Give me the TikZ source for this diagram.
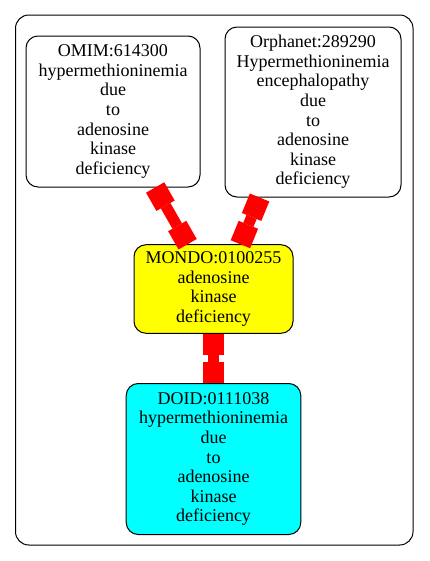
\documentclass[tikz,border=0pt]{standalone}
\usepackage{fontspec}
\setmainfont{Liberation Serif}
\usetikzlibrary{arrows.meta}

\definecolor{edgered}{RGB}{255,0,0}
\definecolor{mondoyellow}{RGB}{255,255,0}
\definecolor{doidcyan}{RGB}{0,255,255}

\tikzset{
  term/.style={draw=black, line width=0.75pt, rounded corners=9pt, align=center,
    inner sep=0pt, font=\fontsize{13.5pt}{14.7pt}\selectfont},
  teeedge/.style={edgered, line width=8.25pt,
    {Square[length=15.75pt,width=15.75pt,line width=0pt]}-{Square[length=15.75pt,width=15.75pt,line width=0pt]}},
}

\begin{document}
\begin{tikzpicture}[x=0.75pt,y=-0.75pt]
    \useasboundingbox (0,0) rectangle (429,561);

    % Draw the cluster frame
    \draw[line width=0.75pt, rounded corners=10pt] (15.5,15) rectangle (413,545);

    % Draw the term nodes
    \node[term, minimum width=130.5pt, minimum height=113.25pt] (omim) at (113,111.5)
        {OMIM:614300\\hypermethioninemia\\due\\to\\adenosine\\kinase\\deficiency};
    \node[term, minimum width=132pt, minimum height=127.5pt] (orphanet) at (313,112)
        {Orphanet:289290\\Hypermethioninemia\\encephalopathy\\due\\to\\adenosine\\kinase\\deficiency};
    \node[term, fill=mondoyellow, minimum width=119.25pt, minimum height=66.4pt] (mondo) at (213.5,289)
        {MONDO:0100255\\adenosine\\kinase\\deficiency};
    \node[term, fill=doidcyan, minimum width=130.9pt, minimum height=113.25pt] (doid) at (213.5,459)
        {DOID:0111038\\hypermethioninemia\\due\\to\\adenosine\\kinase\\deficiency};

    % Draw the edges between the terms
    \draw[teeedge] (omim.299) -- (mondo.120);
    \draw[teeedge] (orphanet.238) -- (mondo.59);
    \draw[teeedge] (mondo) -- (doid);
\end{tikzpicture}
\end{document}
